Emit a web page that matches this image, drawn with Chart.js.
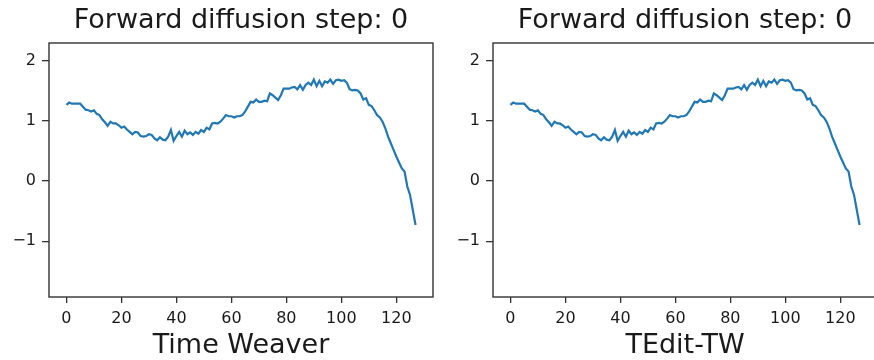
<!DOCTYPE html>
<html>
<head>
<meta charset="utf-8">
<script src="https://cdn.jsdelivr.net/npm/chart.js@4.4.0/dist/chart.umd.min.js"></script>
<style>
  html, body { margin: 0; padding: 0; background: #ffffff; width: 874px; height: 360px; overflow: hidden; }
  .box { position: absolute; top: 0; height: 360px; }
  #w1 { left: 0px; width: 440px; }
  #w2 { left: 444px; width: 440px; }
</style>
</head>
<body>
<div class="box" id="w1"><canvas id="c1" width="440" height="360"></canvas></div>
<div class="box" id="w2"><canvas id="c2" width="440" height="360"></canvas></div>
<script>
// ---- data ----
const steps = [0,1,2,3,4,5,6,7,8,9,10,11,12,13,14,15,16,17,18,19,20,21,22,23,24,25,26,27,28,29,30,31,
  32,33,34,35,36,37,38,39,40,41,42,43,44,45,46,47,48,49,50,51,52,53,54,55,56,57,58,59,60,61,62,63,
  64,65,66,67,68,69,70,71,72,73,74,75,76,77,78,79,80,81,82,83,84,85,86,87,88,89,90,91,92,93,94,95,
  96,97,98,99,100,101,102,103,104,105,106,107,108,109,110,111,112,113,114,115,116,117,118,119,120,121,122,123,124,125,126,127];

const timeWeaver = [1.27,1.31,1.29,1.29,1.29,1.29,1.24,1.19,1.18,1.16,1.18,1.12,1.10,1.03,0.98,0.92,
  0.99,0.96,0.96,0.93,0.89,0.91,0.86,0.82,0.78,0.82,0.81,0.75,0.74,0.75,0.78,0.77,
  0.71,0.68,0.73,0.69,0.68,0.74,0.85,0.67,0.75,0.82,0.74,0.84,0.78,0.81,0.77,0.82,
  0.79,0.85,0.82,0.89,0.86,0.96,0.97,0.96,0.99,1.04,1.10,1.08,1.08,1.06,1.08,1.08,
  1.10,1.16,1.24,1.32,1.31,1.36,1.32,1.32,1.34,1.33,1.46,1.43,1.39,1.35,1.43,1.54,
  1.54,1.54,1.56,1.57,1.53,1.60,1.52,1.60,1.64,1.60,1.69,1.58,1.67,1.58,1.66,1.64,
  1.69,1.62,1.68,1.69,1.67,1.68,1.64,1.53,1.51,1.52,1.51,1.46,1.36,1.38,1.27,1.25,
  1.18,1.10,1.06,0.99,0.88,0.74,0.63,0.52,0.41,0.31,0.21,0.16,-0.09,-0.23,-0.48,-0.73];

const teditTW = [1.27,1.31,1.29,1.29,1.29,1.29,1.24,1.19,1.18,1.16,1.18,1.12,1.10,1.03,0.98,0.92,
  0.99,0.96,0.96,0.93,0.89,0.91,0.86,0.82,0.78,0.82,0.81,0.75,0.74,0.75,0.78,0.77,
  0.71,0.68,0.73,0.69,0.68,0.74,0.85,0.67,0.75,0.82,0.74,0.84,0.78,0.81,0.77,0.82,
  0.79,0.85,0.82,0.89,0.86,0.96,0.97,0.96,0.99,1.04,1.10,1.08,1.08,1.06,1.08,1.08,
  1.10,1.16,1.24,1.32,1.31,1.36,1.32,1.32,1.34,1.33,1.46,1.43,1.39,1.35,1.43,1.54,
  1.54,1.54,1.56,1.57,1.53,1.60,1.52,1.60,1.64,1.60,1.69,1.58,1.67,1.58,1.66,1.64,
  1.69,1.62,1.68,1.69,1.67,1.68,1.64,1.53,1.51,1.52,1.51,1.46,1.36,1.38,1.27,1.25,
  1.18,1.10,1.06,0.99,0.88,0.74,0.63,0.52,0.41,0.31,0.21,0.16,-0.09,-0.23,-0.48,-0.73];

const xTicks = [0, 20, 40, 60, 80, 100, 120];
const yTicks = [-1, 0, 1, 2];
const titles = ["Forward diffusion step: 0", "Forward diffusion step: 0"];
const xLabels = ["Time Weaver", "TEdit-TW"];

// ---- drawing ----
const FONT = "'DejaVu Sans', 'Liberation Sans', sans-serif";
const TXT = '#1a1a1a';
const AX = '#333333';

const framePlugin = {
  id: 'frame',
  afterDraw(chart, args, opts) {
    const a = chart.chartArea, ctx = chart.ctx;
    ctx.save();
    ctx.strokeStyle = AX;
    ctx.lineWidth = 1.4;
    ctx.strokeRect(a.left, a.top, a.right - a.left, a.bottom - a.top);
    ctx.fillStyle = TXT;
    ctx.font = '27px ' + FONT;
    ctx.textAlign = 'center';
    ctx.textBaseline = 'middle';
    ctx.fillText(opts.text, (a.left + a.right) / 2, 21);
    ctx.restore();
  }
};

function makeChart(id, values, title, xLabel) {
  const pts = steps.map((s, i) => ({ x: s, y: values[i] }));
  return new Chart(document.getElementById(id), {
    type: 'line',
    data: { datasets: [{
      data: pts,
      borderColor: '#1f77b4',
      borderWidth: 2.2,
      pointRadius: 0,
      tension: 0,
      fill: false
    }]},
    options: {
      responsive: false,
      animation: false,
      devicePixelRatio: 1,
      layout: { padding: { top: 43, right: 7, left: 0, bottom: 0 } },
      plugins: {
        legend: { display: false },
        tooltip: { enabled: false },
        title: { display: false },
        frame: { text: title }
      },
      scales: {
        x: {
          type: 'linear',
          min: -6.35, max: 133.35,
          afterBuildTicks: s => { s.ticks = xTicks.map(v => ({ value: v })); },
          afterFit: s => { s.height = 63; },
          grid: { drawOnChartArea: false, drawTicks: true, tickLength: 6, color: AX, lineWidth: 1.3 },
          border: { display: false },
          ticks: { color: TXT, font: { family: FONT, size: 16 }, padding: 6, maxRotation: 0, autoSkip: false,
                   callback: v => String(v) },
          title: { display: true, text: xLabel, color: TXT, font: { family: FONT, size: 27, lineHeight: 1.0 },
                   padding: { top: 0, bottom: 1 } }
        },
        y: {
          type: 'linear',
          min: -1.93, max: 2.3,
          afterBuildTicks: s => { s.ticks = yTicks.map(v => ({ value: v })); },
          afterFit: s => { s.width = 49; },
          grid: { drawOnChartArea: false, drawTicks: true, tickLength: 7, color: AX, lineWidth: 1.3 },
          border: { display: false },
          ticks: { color: TXT, font: { family: FONT, size: 16 }, padding: 6,
                   callback: v => (v < 0 ? '\u2212' + Math.abs(v) : String(v)) }
        }
      }
    },
    plugins: [framePlugin]
  });
}

makeChart('c1', timeWeaver, titles[0], xLabels[0]);
makeChart('c2', teditTW, titles[1], xLabels[1]);
</script>
</body>
</html>
